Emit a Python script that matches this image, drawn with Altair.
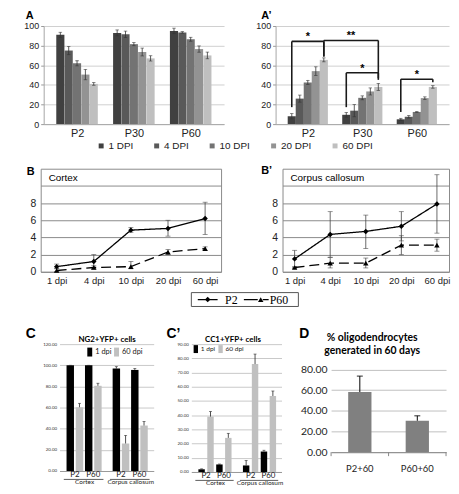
import altair as alt
import pandas as pd

FONT = "Liberation Sans"
CAL = "Lato"
SERIF = "Liberation Serif"

# ---------------- data ----------------
ages_A = ["P2", "P30", "P60"]
dpi_A = ["1 DPI", "4 DPI", "10 DPI", "20 DPI", "60 DPI"]
dpi_colors = ["#404040", "#595959", "#737373", "#939393", "#bfbfbf"]
ng2_mean = [[91, 75, 62, 50.5, 41], [93, 91.5, 81.5, 73.5, 67], [95, 93.5, 86.5, 76.5, 70]]
ng2_err = [[2.6, 4.2, 2.6, 5.3, 1.4], [3.0, 3.3, 1.6, 4.0, 2.7], [2.8, 0.8, 2.0, 3.2, 3.4]]
cc1_mean = [[8, 26, 42.5, 54, 65.5], [9.5, 13.7, 26.8, 33.3, 37.9], [4.9, 7.5, 12.4, 26.5, 37.9]]
cc1_err = [[2.7, 3.6, 2.1, 4.4, 2.0], [2.4, 6.2, 2.0, 3.6, 3.6], [1.0, 1.3, 0.4, 1.3, 1.3]]
# significance brackets: (age_left, dpi_left, age_right, dpi_right, top, left_foot, right_foot, label)
brackets = [
    ("P2", "1 DPI", "P2", "60 DPI", 84.3, 17.3, 69, "*"),
    ("P2", "60 DPI", "P30", "60 DPI", 85.3, 69, 46.7, "**"),
    ("P30", "1 DPI", "P30", "60 DPI", 52.3, 17.3, 45.1, "*"),
    ("P60", "1 DPI", "P60", "60 DPI", 45.8, 12.4, 42.8, "*"),
]

dpi_B = ["1 dpi", "4 dpi", "10 dpi", "20 dpi", "60 dpi"]
series_B = ["P2", "P60"]
ctx_p2 = [0.6, 1.2, 4.85, 5.05, 6.2]
ctx_p2_lo = [0.35, 0.4, 4.6, 4.15, 4.35]
ctx_p2_hi = [0.9, 2.0, 5.15, 6.0, 8.1]
ctx_p60 = [0.15, 0.5, 0.6, 2.3, 2.7]
ctx_p60_lo = [0.0, 0.3, 0.35, 2.0, 2.5]
ctx_p60_hi = [0.4, 0.7, 1.2, 2.6, 2.9]
cc_p2 = [1.5, 4.35, 4.7, 5.3, 7.9]
cc_p2_lo = [0.5, 1.7, 2.7, 3.6, 4.5]
cc_p2_hi = [2.5, 7.0, 6.6, 7.0, 11.3]
cc_p60 = [0.5, 1.0, 1.0, 3.1, 3.1]
cc_p60_lo = [0.4, 0.45, 0.45, 2.0, 2.4]
cc_p60_hi = [0.6, 1.65, 1.6, 4.2, 3.8]

regions = ["Cortex", "Corpus callosum"]
ages_C = ["P2", "P60"]
dpi_C = ["1 dpi", "60 dpi"]
dpi_C_colors = ["#000000", "#c0c0c0"]
ng2_c_mean = [[100, 60.3], [100, 80.6], [96.9, 26], [95.6, 43]]
ng2_c_err = [[0, 3.7], [0, 2.4], [1.8, 7.7], [1.3, 3.8]]
cc1_c_mean = [[1.9, 39], [5.3, 24], [4.6, 76], [14.4, 53.5]]
cc1_c_err = [[0.3, 3.6], [0.3, 3.2], [3.5, 7.0], [0.9, 3.5]]

groups_D = ["P2+60", "P60+60"]
d_mean = [58.2, 30.4]
d_err = [15.4, 4.8]

ONE = pd.DataFrame({"t": [""]})


def label(text, x, y, size, font=FONT, weight="bold", align="left", baseline="alphabetic", color="black"):
    return alt.Chart(pd.DataFrame({"t": [text]})).mark_text(
        font=font, fontSize=size, fontWeight=weight, align=align, baseline=baseline, color=color
    ).encode(text="t:N", x=alt.value(x), y=alt.value(y))


def anchor(y1, y2):
    # invisible strip that pins the vertical extent of a row
    return alt.Chart(ONE).mark_rect(opacity=0).encode(
        x=alt.value(0), x2=alt.value(1), y=alt.value(y1), y2=alt.value(y2))


def spacer(w, h=1):
    return alt.Chart(ONE).mark_point(opacity=0).encode(
        x=alt.value(0), y=alt.value(0)).properties(width=w, height=h)


# ---------------- A / A' ----------------
BAR_STEP = 0.147
A_H = 99


def bar_pos(age, dpi):
    return ages_A.index(age) + (dpi_A.index(dpi) - 2) * BAR_STEP


def panel_A(mean, err, ytitle, letter, letter_x, legend, tpad, brk=None, w=182, extra=None):
    rows = []
    for gi, g in enumerate(ages_A):
        for di, d in enumerate(dpi_A):
            m, e = mean[gi][di], err[gi][di]
            rows.append({"age": g, "dpi": d, "pos": bar_pos(g, d), "mean": m, "lo": m - e, "hi": m + e})
    df = pd.DataFrame(rows)
    xsc = alt.Scale(domain=[-0.5, 2.5], nice=False, zero=False)
    ysc = alt.Scale(domain=[0, 100], nice=False)
    xax = alt.Axis(values=[0, 1, 2], tickCount=3, labelExpr="['P2','P30','P60'][datum.value]",
                   grid=False, ticks=False,
                   domainColor="#a6a6a6", labelFont=FONT, labelFontSize=11, labelPadding=3,
                   labelColor="#222", title=None)
    yax = alt.Axis(values=[0, 20, 40, 60, 80, 100], tickCount=6, gridColor="#cfcfcf", domain=True,
                   domainColor="#a6a6a6", tickColor="#999", tickSize=3, labelFont=FONT,
                   labelFontSize=9, labelPadding=2, labelColor="#222", labelOverlap=False,
                   title=ytitle, titleFont=FONT, titleFontSize=8, titleFontWeight="normal",
                   titleColor="#222", titlePadding=tpad, titleY=39)
    leg = None
    if legend:
        leg = alt.Legend(orient="none", legendX=53, legendY=116, direction="horizontal", title=None,
                         symbolType="square", symbolSize=25, symbolStrokeWidth=0, labelFont=FONT,
                         labelFontSize=10, labelOffset=2.5, columnPadding=18, labelColor="#222")
    base = alt.Chart(df)
    bars = base.mark_bar(size=8.2).encode(
        x=alt.X("pos:Q", scale=xsc, axis=xax),
        y=alt.Y("mean:Q", scale=ysc, axis=yax),
        color=alt.Color("dpi:N", scale=alt.Scale(domain=dpi_A, range=dpi_colors), legend=leg),
    )
    rule = base.mark_rule(color="#333", strokeWidth=0.8).encode(
        x=alt.X("pos:Q", scale=xsc, title=None), y=alt.Y("lo:Q", scale=ysc, title=None), y2="hi:Q")
    caps = base.transform_fold(["lo", "hi"]).mark_tick(
        orient="horizontal", size=3.5, thickness=0.8, color="#333").encode(
        x=alt.X("pos:Q", scale=xsc, title=None), y=alt.Y("value:Q", scale=ysc, title=None))
    layers = [bars, rule, caps]
    if brk:
        segs, stars = [], []
        for (al, dl, ar, dr, top, fl, fr, lab) in brk:
            xl, xr = bar_pos(al, dl), bar_pos(ar, dr)
            segs += [dict(x=xl, x2=xr, y=top, y2=top), dict(x=xl, x2=xl, y=fl, y2=top),
                     dict(x=xr, x2=xr, y=fr, y2=top)]
            stars.append(dict(x=(xl + xr) / 2, y=top + 1, t=lab))
        layers.append(alt.Chart(pd.DataFrame(segs)).mark_rule(color="#1a1a1a", strokeWidth=1.6).encode(
            x=alt.X("x:Q", scale=xsc, title=None), x2="x2:Q",
            y=alt.Y("y:Q", scale=ysc, title=None), y2="y2:Q"))
        layers.append(alt.Chart(pd.DataFrame(stars)).mark_text(
            font=FONT, fontSize=11, fontWeight="bold", baseline="alphabetic").encode(
            x=alt.X("x:Q", scale=xsc, title=None), y=alt.Y("y:Q", scale=ysc, title=None), text="t:N"))
    layers.append(label(letter, letter_x, -7, 11))
    if extra is not None:
        layers.append(extra)
    return alt.layer(*layers).properties(width=w, height=A_H)


A = panel_A(ng2_mean, ng2_err, "% NG2+EGFP+ / EGFP+", "A", -18, True, 1, extra=anchor(-16, 131))
A2 = panel_A(cc1_mean, cc1_err, "% CC1+EGFP+ / EGFP+", "A’", -14.5, False, 6, brackets, w=175)


# ---------------- B / B' ----------------
def panel_B(p2, p2lo, p2hi, p60, p60lo, p60hi, region, letter, letter_x, letter_y, pad, w, with_legend,
            extra=None):
    rows = []
    for s, m, lo, hi in [("P2", p2, p2lo, p2hi), ("P60", p60, p60lo, p60hi)]:
        for i, d in enumerate(dpi_B):
            rows.append({"series": s, "dpi": d, "mean": m[i], "lo": lo[i], "hi": hi[i]})
    df = pd.DataFrame(rows)
    xsc = alt.Scale(type="point", domain=dpi_B, padding=pad)
    ysc = alt.Scale(domain=[0, 12], nice=False)
    xax = alt.Axis(labelFont=FONT, labelFontSize=9.5, labelPadding=4, ticks=False, domain=False,
                   grid=False, title=None, labelAngle=0, labelColor="#222")
    yax = alt.Axis(values=[0, 2, 4, 6, 8, 10], tickCount=6,
                   labelExpr="datum.value <= 8 ? datum.label : ''",
                   gridColor="#8a8a8a", ticks=False, domain=False, labelFont=FONT, labelFontSize=10.5,
                   labelPadding=5, labelColor="#222", labelOverlap=False,
                   title=["density of CC1+EGFP+ cells", "( / 0.05mm³)"], titleFont=FONT,
                   titleFontSize=7.5, titleFontWeight="normal", titleColor="#222", titlePadding=3,
                   titleLineHeight=8.5, titleY=47)
    X = alt.X("dpi:N", scale=xsc, axis=xax, sort=dpi_B)
    Xp = alt.X("dpi:N", scale=xsc, sort=dpi_B, title=None)
    base = alt.Chart(df)
    rule = base.mark_rule(color="#444", strokeWidth=0.8).encode(
        x=X, y=alt.Y("lo:Q", scale=ysc, axis=yax), y2="hi:Q")
    caps = base.transform_fold(["lo", "hi"]).mark_tick(
        orient="horizontal", size=5, thickness=0.8, color="#444").encode(
        x=Xp, y=alt.Y("value:Q", scale=ysc, title=None))
    line = base.mark_line(color="black", strokeWidth=1.3).encode(
        x=Xp, y=alt.Y("mean:Q", scale=ysc, title=None),
        strokeDash=alt.StrokeDash("series:N", scale=alt.Scale(domain=series_B, range=[[1, 0], [10, 5]]),
                                  legend=None))
    pts = base.mark_point(filled=True, opacity=1, color="black", size=30).encode(
        x=Xp, y=alt.Y("mean:Q", scale=ysc, title=None),
        shape=alt.Shape("series:N", scale=alt.Scale(domain=series_B, range=["diamond", "triangle-up"]),
                        legend=None))
    layers = [rule, caps, line, pts,
              label(region, 8, 9, 10, weight="normal", baseline="middle"),
              label(letter, letter_x, letter_y, 11)]
    if with_legend:
        layers.append(alt.Chart(ONE).mark_rect(fill="white", stroke="#555", strokeWidth=1).encode(
            x=alt.value(152), x2=alt.value(260), y=alt.value(125), y2=alt.value(139)))
        leg_x = [158.5, 205]
        leg_dash = [[1, 0], [14, 5]]
        leg_len = [20, 25]
        leg_mark = [10, 17]
        leg_shape = ["diamond", "triangle-up"]
        leg_text = [186, 231]
        for i, s in enumerate(series_B):
            layers.append(alt.Chart(ONE).mark_rule(color="black", strokeWidth=1.3,
                                                   strokeDash=leg_dash[i]).encode(
                x=alt.value(leg_x[i]), x2=alt.value(leg_x[i] + leg_len[i]), y=alt.value(132)))
            layers.append(alt.Chart(ONE).mark_point(shape=leg_shape[i], filled=True, opacity=1,
                                                    color="black", size=30).encode(
                x=alt.value(leg_x[i] + leg_mark[i]), y=alt.value(132)))
            layers.append(label(s, leg_text[i], 132.5, 12, font=SERIF, weight="normal",
                                baseline="middle"))
    if extra is not None:
        layers.append(extra)
    return alt.layer(*layers).properties(
        width=w, height=104, view=alt.ViewBackground(stroke="#8a8a8a", strokeWidth=1))


B = panel_B(ctx_p2, ctx_p2_lo, ctx_p2_hi, ctx_p60, ctx_p60_lo, ctx_p60_hi, "Cortex", "B",
            -14, 6, 0.43, 182, True, extra=anchor(-7, 151))
B2 = panel_B(cc_p2, cc_p2_lo, cc_p2_hi, cc_p60, cc_p60_lo, cc_p60_hi, "Corpus callosum", "B’",
             -21.5, 5, 0.34, 168, False)


# ---------------- C / C' ----------------
def panel_C(mean, err, ymax, ystep, h, title, ytitle, letter, letter_x, w, slot_px, first_px,
            bar_size, leg_x, leg_y, sym_size, leg_font, leg_pad, title_x, tpad, title_y, extra=None):
    rows = []
    k = 0
    for ri, r in enumerate(regions):
        for ai, a in enumerate(ages_C):
            for di, d in enumerate(dpi_C):
                m, e = mean[k][di], err[k][di]
                rows.append({"region": r, "age": a, "dpi": d, "pos": ri * 5 + ai * 2 + di,
                             "mean": m, "hi": m + e})
            k += 1
    df = pd.DataFrame(rows)
    lo = -first_px / slot_px
    xsc = alt.Scale(domain=[lo, lo + w / slot_px], nice=False, zero=False)
    ysc = alt.Scale(domain=[0, ymax], nice=False)
    yvals = list(range(0, ymax + 1, ystep))
    xax = alt.Axis(values=[1.5, 6.5], tickCount=2,
                   labelExpr="datum.value < 4 ? 'Cortex' : 'Corpus callosum'",
                   labelFont=CAL, labelFontSize=6.5, labelPadding=8, ticks=False, grid=False,
                   domainColor="#999", title=None, labelColor="#222")
    yax = alt.Axis(values=yvals, tickCount=len(yvals), format=".2f", labelFont=CAL,
                   labelFontSize=4.5, labelPadding=3, gridColor="#c8c8c8", domain=False, ticks=False,
                   labelColor="#333", labelOverlap=False, title=ytitle, titleFont=CAL,
                   titleFontSize=6.5, titleFontWeight="bold", titleColor="#111", titlePadding=tpad,
                   titleY=title_y)
    leg = alt.Legend(orient="none", legendX=leg_x, legendY=leg_y, direction="horizontal", title=None,
                     symbolType="M-0.55,-1H0.55V1H-0.55Z", symbolSize=sym_size, symbolStrokeWidth=0,
                     labelFont=CAL, labelFontSize=leg_font, labelOffset=1, columnPadding=leg_pad,
                     labelColor="#222")
    base = alt.Chart(df)
    bars = base.mark_bar(size=bar_size).encode(
        x=alt.X("pos:Q", scale=xsc, axis=xax), y=alt.Y("mean:Q", scale=ysc, axis=yax),
        color=alt.Color("dpi:N", scale=alt.Scale(domain=dpi_C, range=dpi_C_colors), legend=leg))
    rule = base.mark_rule(color="#222", strokeWidth=0.8).encode(
        x=alt.X("pos:Q", scale=xsc, title=None), y=alt.Y("mean:Q", scale=ysc, title=None), y2="hi:Q")
    cap = base.mark_tick(orient="horizontal", size=3, thickness=0.8, color="#222").encode(
        x=alt.X("pos:Q", scale=xsc, title=None), y=alt.Y("hi:Q", scale=ysc, title=None))
    age_rows, reg_rows = [], []
    for ri, r in enumerate(regions):
        reg_rows.append({"region": r, "start": ri * 5 - 0.7, "end": ri * 5 + 3.6})
        for ai, a in enumerate(ages_C):
            age_rows.append({"age": a, "pos": ri * 5 + ai * 2 + 0.5})
    ages_txt = alt.Chart(pd.DataFrame(age_rows)).mark_text(
        font=CAL, fontSize=8, baseline="top", color="#222").encode(
        x=alt.X("pos:Q", scale=xsc, title=None), y=alt.value(h + 0.5), text="age:N")
    underline = alt.Chart(pd.DataFrame(reg_rows)).mark_rule(color="#333", strokeWidth=0.8).encode(
        x=alt.X("start:Q", scale=xsc, title=None), x2="end:Q", y=alt.value(h + 8.5))
    layers = [bars, rule, cap, ages_txt, underline,
              label(title, title_x, -4.5, 8, font=CAL, align="center", baseline="middle"),
              label(letter, letter_x, -6, 14)]
    if extra is not None:
        layers.append(extra)
    return alt.layer(*layers).properties(width=w, height=h)


C = panel_C(ng2_c_mean, ng2_c_err, 120, 20, 128, "NG2+YFP+ cells", "%NG2+YFP+ / YFP+ cells", "C", -34,
            95, 10.4, 6.5, 7.5, 26, 3.5, 81, 7.5, 0, 48, 7, 66, extra=anchor(-20, -19))
C2 = panel_C(cc1_c_mean, cc1_c_err, 90, 10, 129, "CC1+YFP+ cells", "%CC1+YFP+ / YFP+ cells", "C’", -25,
             91, 10.1, 6, 6.5, 0.5, 1, 64, 6.6, 1, 42, 1.5, 58)

# ---------------- D ----------------
dfD = pd.DataFrame({"g": groups_D, "mean": d_mean, "hi": [m + e for m, e in zip(d_mean, d_err)]})
D_H = 109
D_W = 116
ysD = alt.Scale(domain=[0, 80 * D_H / 83.4], nice=False)
xsD = alt.Scale(domain=groups_D, paddingInner=0.595, paddingOuter=0.2975)
barsD = alt.Chart(dfD).mark_bar(color="#808080").encode(
    x=alt.X("g:N", scale=xsD, sort=groups_D,
            axis=alt.Axis(labelAngle=0, labelFont=CAL, labelFontSize=9.5, labelPadding=12, ticks=False,
                          domainColor="#888", title=None, grid=False, labelColor="#222")),
    y=alt.Y("mean:Q", scale=ysD,
            axis=alt.Axis(values=[0, 20, 40, 60, 80], tickCount=5, format=".2f", labelFont=CAL,
                          labelFontSize=10.5, labelPadding=4, gridColor="#bfbfbf", domain=False,
                          ticks=False, title=None, labelColor="#222", labelOverlap=False)))
ruleD = alt.Chart(dfD).mark_rule(color="black", strokeWidth=1).encode(
    x=alt.X("g:N", scale=xsD, sort=groups_D, title=None), y=alt.Y("mean:Q", scale=ysD, title=None),
    y2="hi:Q")
capD = alt.Chart(dfD).mark_tick(orient="horizontal", size=6, thickness=1.2, color="black").encode(
    x=alt.X("g:N", scale=xsD, sort=groups_D, title=None), y=alt.Y("hi:Q", scale=ysD, title=None))
d_ticks = [alt.Chart(ONE).mark_rule(color="#888", strokeWidth=1).encode(
    x=alt.value(tx), y=alt.value(D_H), y2=alt.value(D_H + 4)) for tx in (0, D_W / 2, D_W)]
D = alt.layer(
    barsD, ruleD, capD, *d_ticks,
    label("% oligodendrocytes", 41.5, -6.3, 10.5, font=CAL, align="center", baseline="middle"),
    label("generated in 60 days", 41.5, 7, 10.5, font=CAL, align="center", baseline="middle"),
    label("D", -32, -6, 14),
).properties(width=D_W, height=D_H)

IND = dict(color="independent", shape="independent", strokeDash="independent")

# every row starts at the same origin (page x = 8); leading spacers set each panel's left edge
row1 = alt.hconcat(spacer(33), A, spacer(52), A2, spacing=0, bounds="flush").resolve_scale(**IND)
row2 = alt.hconcat(spacer(30), B, spacer(62), B2, spacing=0, bounds="flush").resolve_scale(**IND)
row3 = alt.hconcat(spacer(49), C, spacer(38), C2, spacer(50), D, spacing=0,
                   bounds="flush").resolve_scale(**IND)

chart = alt.vconcat(row1, row2, row3, spacing=5).resolve_scale(**IND).properties(
    padding=0).configure_view(stroke=None)

chart.save("out.html", embed_options={"renderer": "svg", "actions": False})
